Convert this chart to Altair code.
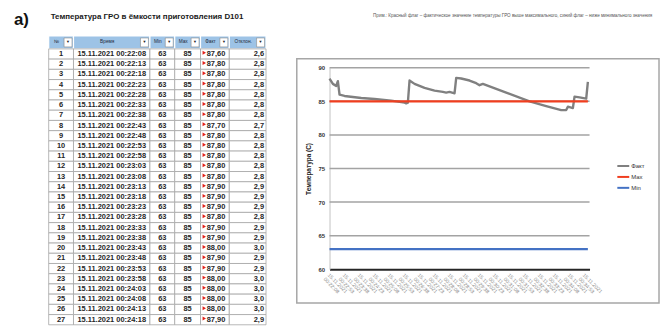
import json
import altair as alt
import pandas as pd

FONT = "Liberation Sans"

# ---------------- chart data ----------------
# sample index (5 s step) and measured temperature of the "Факт" series
FACT_IDX = [0, 2, 4, 5, 6, 9, 19, 27, 37, 45, 46, 47, 48, 51, 57, 63, 68, 70, 72, 75,
            76, 79, 84, 88, 90, 92, 106, 120, 130, 139, 142, 143, 146, 147, 150, 154, 155]
FACT_T = [88.4, 87.6, 87.3, 88.0, 86.0, 85.8, 85.5, 85.35, 85.1, 84.8, 84.7, 84.8, 88.1, 87.6,
          87.0, 86.6, 86.4, 86.3, 86.4, 86.2, 88.5, 88.4, 88.1, 87.7, 87.4, 87.6, 86.3, 85.0,
          84.3, 83.7, 83.7, 84.2, 84.0, 85.7, 85.6, 85.4, 87.9]
LIMIT_IDX = [0, 155]
MAX_T = [85, 85]
MIN_T = [63, 63]
SERIES = ["Факт", "Max", "Min"]
SERIES_COLORS = ["#808080", "#f03e1f", "#4472c4"]
Y_TICKS = [60, 65, 70, 75, 80, 85, 90]
GRID_Y = [65, 70, 75, 80, 85, 90]
X_TICK_VALUES = [0, 9, 18, 27, 36, 45, 54, 63, 72, 81, 90, 99, 108, 117, 126, 135, 144, 153]
X_TICK_LABELS = ["15.11.2021 00:22:08", "15.11.2021 00:22:53", "15.11.2021 00:23:38",
                 "15.11.2021 00:24:23", "15.11.2021 00:25:08", "15.11.2021 00:25:53",
                 "15.11.2021 00:26:38", "15.11.2021 00:27:23", "15.11.2021 00:28:08",
                 "15.11.2021 00:28:53", "15.11.2021 00:29:38", "15.11.2021 00:30:23",
                 "15.11.2021 00:31:08", "15.11.2021 00:31:53", "15.11.2021 00:32:38",
                 "15.11.2021 00:33:23", "15.11.2021 00:34:08", "15.11.2021 00:34:53"]
Y_TITLE = "Температура (С)"
NOTE = ("Прим.: Красный флаг – фактическое значение температуры ГРО выше максимального, "
        "синий флаг – ниже минимального значения")

# ---------------- table data ----------------
TABLE_TITLE = "Температура ГРО в ёмкости приготовления D101"
TABLE_HEADERS = ["№", "Время", "Min", "Max", "Факт", "Отклон."]
ROW_NUM = list(range(1, 28))
TIMES = ["15.11.2021 00:22:08", "15.11.2021 00:22:13", "15.11.2021 00:22:18",
         "15.11.2021 00:22:23", "15.11.2021 00:22:28", "15.11.2021 00:22:33",
         "15.11.2021 00:22:38", "15.11.2021 00:22:43", "15.11.2021 00:22:48",
         "15.11.2021 00:22:53", "15.11.2021 00:22:58", "15.11.2021 00:23:03",
         "15.11.2021 00:23:08", "15.11.2021 00:23:13", "15.11.2021 00:23:18",
         "15.11.2021 00:23:23", "15.11.2021 00:23:28", "15.11.2021 00:23:33",
         "15.11.2021 00:23:38", "15.11.2021 00:23:43", "15.11.2021 00:23:48",
         "15.11.2021 00:23:53", "15.11.2021 00:23:58", "15.11.2021 00:24:03",
         "15.11.2021 00:24:08", "15.11.2021 00:24:13", "15.11.2021 00:24:18"]
TABLE_MIN = 63
TABLE_MAX = 85
TABLE_FACT = [87.60, 87.80, 87.80, 87.80, 87.80, 87.80, 87.80, 87.70, 87.80, 87.80, 87.80,
              87.80, 87.80, 87.90, 87.90, 87.90, 87.80, 87.90, 87.90, 88.00, 87.90, 87.90,
              88.00, 88.00, 88.00, 88.00, 87.90]
TABLE_DEV = [2.6, 2.8, 2.8, 2.8, 2.8, 2.8, 2.8, 2.7, 2.8, 2.8, 2.8, 2.8, 2.8, 2.9, 2.9, 2.9,
             2.8, 2.9, 2.9, 3.0, 2.9, 2.9, 3.0, 3.0, 3.0, 3.0, 2.9]

# ---------------- layout ----------------
COL_W = [25, 77, 25, 26, 29, 37]
HEAD_H = 13
ROW_H = 10.3
RIGHT_PAD = {4: 4, 5: 2}
FRAME_W, FRAME_H = 365, 246
PLOT_X_RANGE = [33, 295]
PLOT_Y_RANGE = [212, 9]
X_DOMAIN = [0, 156]
Y_DOMAIN = [60, 90]
LEGEND_POS = (612, 150)   # legends of a concat are placed in the top-level group
TRANSPARENT = alt.ViewBackground(stroke="transparent")

# ======================= line chart =======================
series_df = pd.concat([
    pd.DataFrame({"idx": FACT_IDX, "val": FACT_T, "series": SERIES[0]}),
    pd.DataFrame({"idx": LIMIT_IDX, "val": MAX_T, "series": SERIES[1]}),
    pd.DataFrame({"idx": LIMIT_IDX, "val": MIN_T, "series": SERIES[2]}),
], ignore_index=True)
grid_df = pd.DataFrame({"val": GRID_Y, "idx": X_DOMAIN[0], "idx_end": X_DOMAIN[1]})

label_expr = "split({}[indexof({}, datum.value)], ' ')".format(
    json.dumps(X_TICK_LABELS, ensure_ascii=False), json.dumps(X_TICK_VALUES))

x_axis = alt.Axis(values=X_TICK_VALUES, offset=-(FRAME_H - PLOT_Y_RANGE[0]), grid=False,
                  ticks=False, domain=True, domainColor="#262626", domainWidth=2,
                  labelAngle=45, labelAlign="left", labelBaseline="top", labelFontSize=5.2,
                  labelColor="#8c8c8c", labelPadding=3, labelOverlap=False, labelFlush=False,
                  labelLineHeight=5.8, labelExpr=label_expr, title=None)
y_axis = alt.Axis(values=Y_TICKS, offset=-PLOT_X_RANGE[0], grid=False, ticks=False,
                  domain=True, domainColor="#c4c4c4", domainWidth=1, labelFontSize=6,
                  labelFontWeight="bold", labelColor="#333333", labelPadding=5,
                  title=Y_TITLE, titleFontSize=6.5, titleFontWeight="bold",
                  titleColor="#222222", titlePadding=6)

X = alt.X("idx:Q", scale=alt.Scale(domain=X_DOMAIN, range=PLOT_X_RANGE, nice=False, zero=False),
          axis=x_axis)
Y = alt.Y("val:Q", scale=alt.Scale(domain=Y_DOMAIN, range=PLOT_Y_RANGE, nice=False, zero=False),
          axis=y_axis)
COLOR = alt.Color("series:N", scale=alt.Scale(domain=SERIES, range=SERIES_COLORS),
                  legend=alt.Legend(orient="none", legendX=LEGEND_POS[0], legendY=LEGEND_POS[1],
                                    title=None, symbolType="stroke", symbolStrokeWidth=2,
                                    symbolSize=144, labelFontSize=6, labelColor="#333333",
                                    rowPadding=0, labelOffset=1))

grid = alt.Chart(grid_df).mark_rule(color="#a3a3a3", strokeWidth=1.5).encode(
    x=X, x2="idx_end:Q", y=Y)
lines = alt.Chart(series_df).mark_line(strokeWidth=2.4, strokeJoin="round").encode(
    x=X, y=Y, color=COLOR)

line_chart = alt.layer(grid, lines).properties(
    width=FRAME_W, height=FRAME_H,
    view=alt.ViewBackground(stroke="#a6a6a6", strokeWidth=1.5, fill="white"),
)

note_chart = alt.Chart(pd.DataFrame({"t": [NOTE]})).mark_text(
    fontSize=4.6, color="#555555", baseline="middle", dx=35).encode(text="t:N").properties(
    width=FRAME_W, height=12, view=TRANSPARENT)

# ======================= table =======================
edges = [0]
for w in COL_W:
    edges.append(edges[-1] + w)
TABLE_W = edges[-1]
TABLE_H = HEAD_H + ROW_H * len(ROW_NUM)

head_rows = []
for c, h in enumerate(TABLE_HEADERS):
    x0, x1 = edges[c], edges[c + 1]
    head_rows.append(dict(x0=x0, x1=x1, y0=0, y1=HEAD_H, label=h,
                          tx=(x0 + x1 - 9) / 2, bx0=x1 - 9.5, bx1=x1 - 1.5,
                          bxm=x1 - 5.5, by0=2, by1=HEAD_H - 2, ym=HEAD_H / 2, arrow="▼"))
head_df = pd.DataFrame(head_rows)

body_rows = []
for i, n in enumerate(ROW_NUM):
    y0 = HEAD_H + i * ROW_H
    y1 = y0 + ROW_H
    texts = [str(n), TIMES[i], str(TABLE_MIN), str(TABLE_MAX),
             f"{TABLE_FACT[i]:.2f}".replace(".", ","), f"{TABLE_DEV[i]:.1f}".replace(".", ",")]
    for c in range(6):
        x0, x1 = edges[c], edges[c + 1]
        if c in RIGHT_PAD:
            tx, al = x1 - RIGHT_PAD[c], "right"
        else:
            tx, al = (x0 + x1) / 2, "center"
        body_rows.append(dict(x0=x0, x1=x1, y0=y0, y1=y1, ym=(y0 + y1) / 2, label=texts[c],
                              tx=tx, al=al, col=c, fx=x0 + 3.8, fy=(y0 + y1) / 2 - 1.2))
body_df = pd.DataFrame(body_rows)

TX = alt.Scale(domain=[0, TABLE_W], nice=False, zero=False)
TY = alt.Scale(domain=[0, TABLE_H], reverse=True, nice=False, zero=False)


def xq(f):
    return alt.X(f"{f}:Q", scale=TX, axis=None)


def yq(f):
    return alt.Y(f"{f}:Q", scale=TY, axis=None)


head_rect = alt.Chart(head_df).mark_rect(fill="#9dc3e6", stroke="#ffffff", strokeWidth=1.2).encode(
    x=xq("x0"), x2="x1:Q", y=yq("y0"), y2="y1:Q")
btn_rect = alt.Chart(head_df).mark_rect(fill="#ffffff", stroke="#8a8a8a", strokeWidth=0.6).encode(
    x=xq("bx0"), x2="bx1:Q", y=yq("by0"), y2="by1:Q")
btn_text = alt.Chart(head_df).mark_text(fontSize=4, color="#222222", baseline="middle").encode(
    x=xq("bxm"), y=yq("ym"), text="arrow:N")
head_text = alt.Chart(head_df).mark_text(fontSize=4.8, color="#1f2a3a", baseline="middle").encode(
    x=xq("tx"), y=yq("ym"), text="label:N")
body_rect = alt.Chart(body_df).mark_rect(fill="#ffffff", stroke="#a6a6a6", strokeWidth=0.8).encode(
    x=xq("x0"), x2="x1:Q", y=yq("y0"), y2="y1:Q")
body_center = alt.Chart(body_df).transform_filter(alt.datum.al == "center").mark_text(
    fontSize=7.5, fontWeight="bold", color="#262626", baseline="middle", align="center").encode(
    x=xq("tx"), y=yq("ym"), text="label:N")
body_right = alt.Chart(body_df).transform_filter(alt.datum.al == "right").mark_text(
    fontSize=7.5, fontWeight="bold", color="#262626", baseline="middle", align="right").encode(
    x=xq("tx"), y=yq("ym"), text="label:N")
flags = alt.Chart(body_df).transform_filter(alt.datum.col == 4).mark_point(
    shape="triangle-right", filled=True, color="#e3221b", size=16, opacity=1).encode(
    x=xq("fx"), y=yq("fy"))

table_chart = alt.layer(head_rect, btn_rect, btn_text, head_text, body_rect,
                        body_center, body_right, flags).properties(
    width=TABLE_W, height=int(round(TABLE_H)), view=TRANSPARENT)

title_chart = alt.Chart(pd.DataFrame({"t": [TABLE_TITLE]})).mark_text(
    fontSize=8, fontWeight="bold", color="#1a1a1a", baseline="middle", align="left",
    dx=-(TABLE_W / 2 - 2)).encode(text="t:N").properties(
    width=TABLE_W, height=14, view=TRANSPARENT)

# ======================= "a)" label =======================
a_chart = alt.Chart(pd.DataFrame({"t": ["a)"]})).mark_text(
    fontSize=17, fontWeight="bold", color="#111111", baseline="middle").encode(
    text="t:N").properties(width=25, height=20, view=TRANSPARENT)

left = alt.hconcat(a_chart, alt.vconcat(title_chart, table_chart, spacing=9), spacing=12)
right = alt.vconcat(note_chart, line_chart, spacing=35)
chart = alt.hconcat(left, right, spacing=28).properties(padding=0).configure(
    font=FONT).configure_title(font=FONT)

chart.save("out.html", embed_options={"renderer": "svg", "actions": False})
